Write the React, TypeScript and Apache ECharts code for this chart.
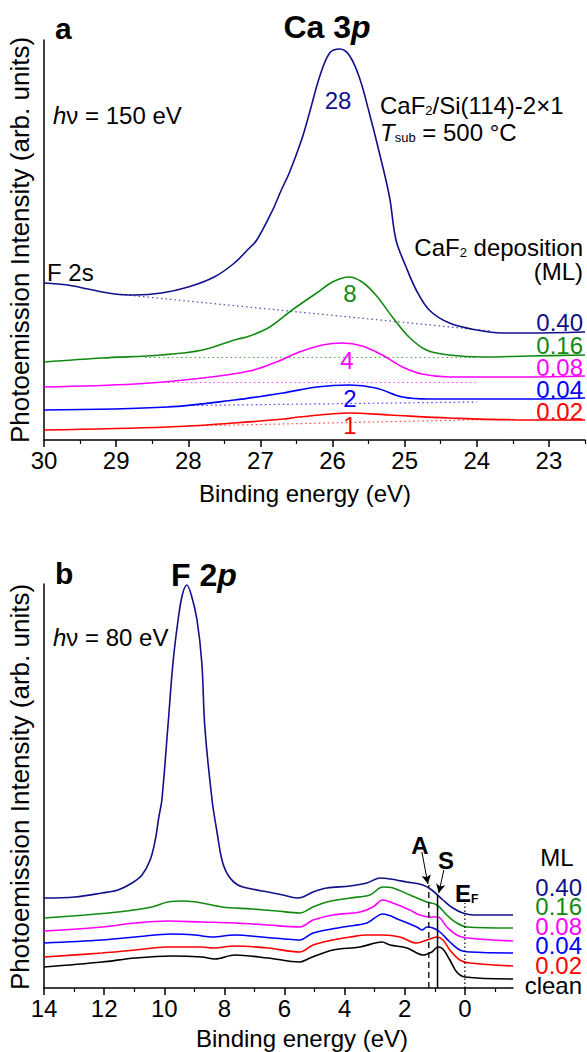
import React, { useEffect, useRef } from 'react';
import * as echarts from 'echarts';

// ---------- Panel a: Ca 3p (binding energy eV, intensity arb.) ----------
const ca040: [number, number][] = [
  [30.0, 157], [29.67, 155], [29.39, 151], [29.02, 146], [28.74, 145], [28.37, 147], [28.0, 153],
  [27.64, 163], [27.36, 177], [27.18, 190], [27.05, 200], [26.83, 230], [26.71, 250], [26.6, 267],
  [26.43, 300], [26.32, 327], [26.18, 363], [26.04, 387], [25.9, 391], [25.77, 385], [25.63, 363],
  [25.49, 327], [25.35, 287], [25.21, 243], [25.12, 200], [24.98, 173], [24.84, 150], [24.66, 130],
  [24.38, 117], [24.0, 110], [23.65, 107], [23.28, 107], [22.5, 108],
];
const ca016: [number, number][] = [
  [30.0, 78], [29.2, 82], [28.37, 85], [27.8, 90], [27.36, 100], [27.15, 104], [26.87, 113],
  [26.56, 130], [26.22, 147], [26.0, 158], [25.77, 163], [25.59, 158], [25.4, 145], [25.17, 123],
  [24.94, 103], [24.7, 90], [24.38, 85], [23.93, 83], [23.28, 84], [22.5, 85],
];
const ca008: [number, number][] = [
  [30.0, 53], [28.74, 56], [27.8, 62], [27.15, 69], [26.78, 78], [26.46, 88], [26.14, 95],
  [25.86, 97], [25.59, 94], [25.31, 85], [25.03, 73], [24.76, 66], [24.38, 63], [23.28, 63], [22.5, 64],
];
const ca004: [number, number][] = [
  [30.0, 30], [28.29, 33], [27.36, 40], [26.69, 47], [26.22, 53], [25.77, 55], [25.4, 52],
  [25.03, 43], [24.66, 41], [23.28, 41], [22.5, 42],
];
const ca002: [number, number][] = [
  [30.0, 10], [28.29, 13], [27.36, 17], [26.67, 21], [26.46, 23], [25.77, 27], [25.21, 25],
  [24.38, 22], [23.28, 20], [22.5, 20],
];
const caBase040: [number, number][] = [[29.0, 146], [23.8, 109]];
const caBase016: [number, number][] = [[28.6, 82.5], [24.0, 82.5]];
const caBase008: [number, number][] = [[28.4, 57.5], [24.0, 57.5]];
const caBase004: [number, number][] = [[28.0, 34.5], [24.0, 38]];
const caBase002: [number, number][] = [[28.0, 14], [23.5, 21]];
const caTicks = [23, 24, 25, 26, 27, 28, 29, 30];
const caMinorTicks = [22.5, 23.5, 24.5, 25.5, 26.5, 27.5, 28.5, 29.5];
const caCoverage = ['0.40', '0.16', '0.08', '0.04', '0.02'];
const caThickness = ['28', '8', '4', '2', '1'];

// ---------- Panel b: F 2p / valence band ----------
const f040: [number, number][] = [
  [14, 90], [12.97, 91], [12.07, 95], [11.54, 98], [11.07, 105], [10.74, 113], [10.47, 128],
  [10.3, 148], [10.18, 171], [10.08, 188], [9.88, 261], [9.71, 325], [9.54, 368], [9.4, 393],
  [9.25, 403], [9.1, 393], [8.91, 368], [8.75, 325], [8.65, 261], [8.41, 188], [8.24, 155],
  [8.08, 128], [7.88, 113], [7.55, 103], [7.08, 99], [6.55, 96], [6.05, 93], [5.59, 90],
  [5.39, 91], [5.05, 96], [4.59, 100], [3.82, 102], [3.26, 105], [2.83, 110], [2.49, 109],
  [1.93, 106], [1.4, 103], [1.1, 98], [0.73, 88], [0.4, 80], [0.07, 75], [-0.3, 73], [-1.6, 73],
];
const f016: [number, number][] = [
  [14, 70], [12.64, 73], [11.54, 76], [10.41, 81], [9.88, 86], [9.31, 87], [8.75, 85], [8.08, 81],
  [7.08, 79], [6.25, 77], [5.49, 75], [5.05, 81], [4.59, 86], [3.82, 90], [3.16, 93], [2.73, 101],
  [2.39, 100], [1.83, 93], [1.26, 86], [0.93, 83], [0.6, 73], [0.27, 65], [-0.07, 61], [-1.6, 60],
];
const f008: [number, number][] = [
  [14, 57], [12.07, 61], [10.97, 65], [9.88, 67], [8.75, 66], [7.65, 65], [6.55, 63], [5.49, 61],
  [5.05, 68], [4.39, 73], [3.49, 76], [3.06, 81], [2.73, 88], [2.39, 85], [1.83, 78], [1.5, 73],
  [1.16, 71], [0.9, 71], [0.6, 61], [0.27, 53], [-0.07, 50], [-1.6, 47],
];
const f004: [number, number][] = [
  [14, 45], [12.07, 48], [10.97, 51], [9.74, 54], [8.98, 53], [8.41, 51], [7.65, 53], [6.75, 51],
  [6.0, 49], [5.49, 48], [5.05, 55], [4.06, 61], [3.26, 65], [2.73, 74], [2.16, 68], [1.6, 61],
  [1.43, 58], [1.26, 61], [1.06, 60], [0.83, 56], [0.5, 46], [0.17, 38], [-0.17, 36], [-1.6, 35],
];
const f002: [number, number][] = [
  [14, 31], [12.07, 35], [10.97, 38], [9.88, 41], [8.75, 41], [8.38, 40], [7.65, 42], [6.55, 40],
  [5.49, 36], [5.05, 43], [4.39, 48], [3.82, 51], [3.26, 53], [2.73, 53], [2.16, 51], [1.6, 45],
  [1.26, 48], [0.93, 51], [0.73, 48], [0.5, 38], [0.17, 28], [-0.17, 25], [-1.6, 22],
];
const fClean: [number, number][] = [
  [14, 21], [12.07, 26], [10.97, 30], [9.74, 32], [8.75, 31], [8.31, 29], [7.65, 33], [6.55, 30],
  [5.49, 26], [5.15, 30], [4.39, 38], [3.49, 41], [2.76, 46], [2.49, 43], [1.93, 40], [1.6, 35],
  [1.4, 33], [1.1, 36], [0.9, 41], [0.73, 39], [0.5, 28], [0.27, 16], [0.0, 11], [-1.6, 9],
];
const markA: [number, number][] = [[1.2, 0], [1.2, 103]];
const markS: [number, number][] = [[0.91, 0], [0.91, 93]];
const markEF: [number, number][] = [[0, 0], [0, 85]];
const arrowA: [number, number][] = [[1.43, 136], [1.23, 104]];
const arrowS: [number, number][] = [[0.7, 118], [0.87, 95]];
const fTicks = [0, 2, 4, 6, 8, 10, 12, 14];
const fMinorTicks = [-1, 1, 3, 5, 7, 9, 11, 13];
const fCoverage = ['0.40', '0.16', '0.08', '0.04', '0.02', 'clean'];

const FONT = "'Liberation Sans', Arial, Helvetica, sans-serif";
const NAVY = '#10108a';
const GREEN = '#128a12';
const MAGENTA = '#ff00ff';
const BLUE = '#0000ff';
const RED = '#ff0000';
const BLACK = '#000000';

function lineSeries(data: [number, number][], color: string, xi: number, yi: number, dotted = false) {
  return {
    type: 'line',
    xAxisIndex: xi,
    yAxisIndex: yi,
    data,
    showSymbol: false,
    symbol: 'none',
    smooth: dotted ? false : 0.35,
    silent: true,
    lineStyle: dotted
      ? { color, width: 1.2, type: [1.5, 3], opacity: 0.75 }
      : { color, width: 1.6 },
    z: dotted ? 2 : 3,
  };
}

function txt(text: string, x: number, y: number, opts: any = {}) {
  return {
    type: 'text',
    x,
    y,
    rotation: opts.rotation || 0,
    silent: true,
    z: 10,
    style: {
      text,
      fill: opts.color || '#000',
      fontSize: opts.size || 24,
      fontFamily: FONT,
      fontWeight: opts.weight || 'normal',
      fontStyle: opts.style || 'normal',
      align: opts.align || 'left',
      verticalAlign: opts.valign || 'middle',
      lineHeight: opts.lineHeight,
      rich: opts.rich,
    },
  };
}

export default function App() {
  const ref = useRef<HTMLDivElement>(null);
  useEffect(() => {
    if (!ref.current) return;
    const chart = echarts.init(ref.current, undefined, { renderer: 'svg' });
    const axisLine = { show: true, onZero: false, lineStyle: { color: '#000', width: 1.5 } };
    const labelStyle = { color: '#000', fontSize: 24, fontFamily: FONT, margin: 8 };

    const topColors = [NAVY, GREEN, MAGENTA, BLUE, RED];
    const botColors = [NAVY, GREEN, MAGENTA, BLUE, RED, BLACK];
    const topCurves = [ca040, ca016, ca008, ca004, ca002];
    const topBases = [caBase040, caBase016, caBase008, caBase004, caBase002];
    const botCurves = [f040, f016, f008, f004, f002, fClean];

    const series: any[] = [];
    topCurves.forEach((d, i) => series.push(lineSeries(d, topColors[i], 0, 0)));
    topBases.forEach((d, i) => series.push(lineSeries(d, topColors[i], 0, 0, true)));
    botCurves.forEach((d, i) => series.push(lineSeries(d, botColors[i], 2, 1)));
    series.push({
      type: 'line', xAxisIndex: 2, yAxisIndex: 1, data: markA, symbol: 'none', silent: true,
      lineStyle: { color: '#000', width: 1.3, type: [6, 4] }, z: 4,
      markLine: {
        silent: true, symbol: ['none', 'arrow'], symbolSize: [7, 9],
        lineStyle: { color: '#000', width: 1, type: 'solid' }, label: { show: false },
        data: [
          [{ coord: arrowA[0] }, { coord: arrowA[1] }],
          [{ coord: arrowS[0] }, { coord: arrowS[1] }],
        ],
      },
    });
    series.push({
      type: 'line', xAxisIndex: 2, yAxisIndex: 1, data: markS, symbol: 'none', silent: true,
      lineStyle: { color: '#000', width: 1.5 }, z: 4,
    });
    series.push({
      type: 'line', xAxisIndex: 2, yAxisIndex: 1, data: markEF, symbol: 'none', silent: true,
      lineStyle: { color: '#000', width: 1.2, type: [1.5, 2.5] }, z: 4,
    });

    const graphic: any[] = [
      // panel a
      txt('a', 55, 28, { size: 30, weight: 'bold' }),
      txt('{b|Ca 3}{bi|p}', 327, 27, {
        align: 'center',
        rich: {
          b: { fontSize: 32, fontWeight: 'bold', fontFamily: FONT },
          bi: { fontSize: 32, fontWeight: 'bold', fontStyle: 'italic', fontFamily: FONT },
        },
      }),
      txt('{i|h}ν = 150 eV', 53, 115, { rich: { i: { fontSize: 24, fontStyle: 'italic', fontFamily: FONT } } }),
      txt('CaF{s|2}/Si(114)-2×1', 380, 105, {
        rich: { s: { fontSize: 13, fontFamily: FONT, verticalAlign: 'bottom', padding: [10, 0, 0, 0] } },
      }),
      txt('{i|T}{s|sub} = 500 °C', 380, 132, {
        rich: {
          i: { fontSize: 24, fontStyle: 'italic', fontFamily: FONT },
          s: { fontSize: 13, fontFamily: FONT, verticalAlign: 'bottom', padding: [10, 0, 0, 0] },
        },
      }),
      txt('F 2s', 47, 272),
      txt('CaF{s|2} deposition', 583, 247, {
        align: 'right',
        rich: { s: { fontSize: 13, fontFamily: FONT, verticalAlign: 'bottom', padding: [10, 0, 0, 0] } },
      }),
      txt('(ML)', 583, 271, { align: 'right' }),
      txt('Binding energy (eV)', 305, 493, { align: 'center' }),
      txt('Photoemission Intensity (arb. units)', 20, 240, { align: 'center', size: 26, rotation: Math.PI / 2 }),
      // panel b
      txt('b', 55, 573, { size: 30, weight: 'bold' }),
      txt('{b|F 2}{bi|p}', 204, 575, {
        align: 'center',
        rich: {
          b: { fontSize: 32, fontWeight: 'bold', fontFamily: FONT },
          bi: { fontSize: 32, fontWeight: 'bold', fontStyle: 'italic', fontFamily: FONT },
        },
      }),
      txt('{i|h}ν = 80 eV', 53, 637, { rich: { i: { fontSize: 24, fontStyle: 'italic', fontFamily: FONT } } }),
      txt('A', 420, 845, { align: 'center', weight: 'bold' }),
      txt('S', 446, 860, { align: 'center', weight: 'bold' }),
      txt('{b|E}{s|F}', 455, 893, {
        rich: {
          b: { fontSize: 24, fontWeight: 'bold', fontFamily: FONT },
          s: { fontSize: 12, fontWeight: 'bold', fontFamily: FONT, verticalAlign: 'bottom', padding: [8, 0, 0, 0] },
        },
      }),
      txt('ML', 557, 857, { align: 'center' }),
      txt('Binding energy (eV)', 302, 1038, { align: 'center' }),
      txt('Photoemission Intensity (arb. units)', 20, 787, { align: 'center', size: 26, rotation: Math.PI / 2 }),
    ];
    const topPeakPos = [[338, 100], [350, 293], [347, 360], [350, 398], [350, 425]];
    caThickness.forEach((t, i) =>
      graphic.push(txt(t, topPeakPos[i][0], topPeakPos[i][1], { align: 'center', color: topColors[i] })));
    const topRightY = [322, 345, 367, 389, 411];
    caCoverage.forEach((t, i) =>
      graphic.push(txt(t, 583, topRightY[i], { align: 'right', color: topColors[i], size: 24 })));
    const botRightY = [887, 906, 926, 945, 965, 985];
    fCoverage.forEach((t, i) =>
      graphic.push(txt(t, 582, botRightY[i], { align: 'right', color: botColors[i], size: 24 })));

    const minorAxis = (grid: number, min: number, max: number, vals: number[]) => ({
      gridIndex: grid, type: 'value', position: 'bottom', min, max, inverse: true,
      axisLine: { show: false, onZero: false },
      axisTick: { show: true, length: 4, lineStyle: { color: '#000', width: 1.2 }, customValues: vals },
      axisLabel: { show: false }, splitLine: { show: false },
    });

    chart.setOption({
      animation: false,
      backgroundColor: '#fff',
      grid: [
        { left: 44, top: 40, width: 541, height: 400 },
        { left: 44, top: 584, width: 469, height: 404 },
      ],
      xAxis: [
        {
          gridIndex: 0, type: 'value', position: 'bottom', min: 22.5, max: 30, inverse: true, axisLine,
          axisTick: { show: true, length: 7, lineStyle: { color: '#000', width: 1.5 }, customValues: caTicks },
          axisLabel: { ...labelStyle, customValues: caTicks },
          splitLine: { show: false },
        },
        minorAxis(0, 22.5, 30, caMinorTicks),
        {
          gridIndex: 1, type: 'value', position: 'bottom', min: -1.6, max: 14, inverse: true, axisLine,
          axisTick: { show: true, length: 7, lineStyle: { color: '#000', width: 1.5 }, customValues: fTicks },
          axisLabel: { ...labelStyle, customValues: fTicks },
          splitLine: { show: false },
        },
        minorAxis(1, -1.6, 14, fMinorTicks),
      ],
      yAxis: [
        {
          gridIndex: 0, type: 'value', position: 'left', min: 0, max: 400, axisLine,
          axisTick: { show: false }, axisLabel: { show: false }, splitLine: { show: false },
        },
        {
          gridIndex: 1, type: 'value', position: 'left', min: 0, max: 404, axisLine,
          axisTick: { show: false }, axisLabel: { show: false }, splitLine: { show: false },
        },
      ],
      series,
      graphic,
    });
    return () => chart.dispose();
  }, []);
  return <div ref={ref} style={{ position: 'absolute', left: 0, top: 0, width: 587, height: 1052 }} />;
}
